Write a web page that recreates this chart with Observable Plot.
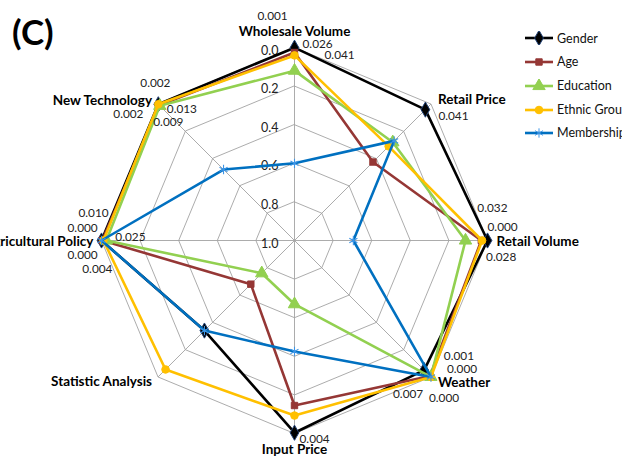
<!DOCTYPE html>
<html>
<head>
<meta charset="utf-8">
<script src="https://cdn.jsdelivr.net/npm/d3@7"></script>
<script src="https://cdn.jsdelivr.net/npm/@observablehq/plot@0.6"></script>
<style>
  html, body { margin: 0; padding: 0; background: #fff; }
  body { width: 622px; height: 456px; overflow: hidden; }
  #wrap { position: relative; width: 622px; height: 456px; overflow: hidden; font-family: Lato, "Open Sans", sans-serif; }
  #wrap svg.chart { position: absolute; left: 0; top: 0; }
  #panel { position: absolute; left: 12px; top: 14px; font-size: 35px; font-weight: 700; color: #000; line-height: 1; }
  .key { position: absolute; left: 524px; height: 14px; display: flex; align-items: center; white-space: nowrap; font-size: 12.5px; color: #111; }
  .key svg { margin-right: 3px; }
</style>
</head>
<body>
<div id="wrap"><div id="panel">(C)</div></div>
<script>
// Spokes of the radar, clockwise from the top
const axes = ["Wholesale Volume", "Retail Price", "Retail Volume", "Weather",
              "Input Price", "Statistic Analysis", "Agricultural Policy", "New Technology"];
const series = ["Gender", "Age", "Education", "Ethnic Group", "Membership"];

// p-values per spoke (0 sits on the rim, 1 at the centre)
const gender     = [0.001, 0.041, 0.000, 0.050, 0.004, 0.340, 0.000, 0.002];
const age        = [0.026, 0.425, 0.032, 0.007, 0.145, 0.680, 0.004, 0.009];
const education  = [0.120, 0.280, 0.114, 0.001, 0.670, 0.760, 0.025, 0.013];
const ethnic     = [0.041, 0.310, 0.028, 0.000, 0.093, 0.055, 0.010, 0.002];
const membership = [0.600, 0.270, 0.695, 0.000, 0.425, 0.340, 0.000, 0.480];

const ticks = [0.0, 0.2, 0.4, 0.6, 0.8, 1.0];

// Styling
const colors  = ["#000000", "#953735", "#92D050", "#FFC000", "#0070C0"];
const symbols = ["diamond", "square", "triangle", "circle", "asterisk"];
const symSize = [4.6, 3.6, 4.6, 3.8, 4.4];

// Nudges (px) for the significance labels, keyed series|spoke
const labelNudge = {
  "Gender|Wholesale Volume": [-37, -31],
  "Age|Wholesale Volume": [8, -8],
  "Ethnic Group|Wholesale Volume": [30, 0],
  "Gender|Retail Price": [13, 7],
  "Gender|Retail Volume": [0, -13],
  "Age|Retail Volume": [-4, -32],
  "Ethnic Group|Retail Volume": [4, 17],
  "Education|Weather": [13, -21],
  "Ethnic Group|Weather": [16, -8],
  "Age|Weather": [-37, 18],
  "Membership|Weather": [-2, 21],
  "Gender|Input Price": [5, 6],
  "Ethnic Group|Agricultural Policy": [-25, -27],
  "Gender|Agricultural Policy": [-34, -12],
  "Education|Agricultural Policy": [9, -3],
  "Membership|Agricultural Policy": [-34, 15],
  "Age|Agricultural Policy": [-20, 29],
  "Gender|New Technology": [-18, -21],
  "Education|New Technology": [7, 3],
  "Ethnic Group|New Technology": [-45, 10],
  "Age|New Technology": [-6, 17]
};
// Nudges (px) for the spoke names
const axisNudge = [[0, -16], [7, -4], [9, 1], [7, 6], [0, 16], [-6, 5], [-8, 1], [-6, -3]];

const valuesBySeries = [gender, age, education, ethnic, membership];
const angle = i => (i * 2 * Math.PI) / axes.length;
const radius = d3.scaleLinear([0, 1], [1, 0]); // reversed radial axis
const px = (i, v) => radius(v) * Math.sin(angle(i));
const py = (i, v) => radius(v) * Math.cos(angle(i));

const rows = series.flatMap((s, k) =>
  axes.map((a, i) => ({series: s, k, axis: a, i, value: valuesBySeries[k][i],
                       x: px(i, valuesBySeries[k][i]), y: py(i, valuesBySeries[k][i])})));

const rings = ticks.filter(t => t < 1).flatMap(t =>
  axes.map((a, i) => ({ring: t, x: px(i, t), y: py(i, t)})));
const spokes = axes.map((a, i) => ({axis: a, i, x: px(i, 0), y: py(i, 0)}));

const marks = [
  Plot.line(rings, {x: "x", y: "y", z: "ring", curve: "linear-closed", stroke: "#a3a3a3", strokeWidth: 0.9}),
  Plot.link(spokes, {x1: 0, y1: 0, x2: "x", y2: "y", stroke: "#a3a3a3", strokeWidth: 0.9}),
  Plot.text(ticks, {x: 0, y: t => radius(t), text: d3.format(".1f"), textAnchor: "end",
                    dx: -16, dy: 3, fontSize: 12.5, fill: "#222"})
];

series.forEach((s, k) => {
  const pts = rows.filter(d => d.k === k);
  marks.push(Plot.line(pts, {x: "x", y: "y", curve: "linear-closed", stroke: colors[k], strokeWidth: 2.6}));
  if (symbols[k] === "asterisk") {
    marks.push(Plot.dot(pts, {x: "x", y: "y", symbol: "asterisk", r: symSize[k], stroke: "#3d95e6", strokeWidth: 1.1}));
  } else {
    marks.push(Plot.dot(pts, {x: "x", y: "y", symbol: symbols[k], r: symSize[k], fill: colors[k],
                              stroke: k === 0 ? "#1f3f73" : colors[k], strokeWidth: 1}));
  }
});

// Labels for significant values (p < 0.05)
rows.filter(d => d.value < 0.05).forEach(d => {
  const [dx, dy] = labelNudge[`${d.series}|${d.axis}`] || [6, 0];
  marks.push(Plot.text([d], {x: "x", y: "y", text: v => d3.format(".3f")(v.value),
                              textAnchor: "start", dx, dy, fontSize: 11.8, fill: "#222"}));
});

// Spoke names
spokes.forEach((d, i) => {
  const s = Math.sin(angle(i));
  const anchor = Math.abs(s) < 0.1 ? "middle" : s > 0 ? "start" : "end";
  marks.push(Plot.text([d], {x: "x", y: "y", text: "axis", textAnchor: anchor,
                              dx: axisNudge[i][0], dy: axisNudge[i][1],
                              fontSize: 13.5, fontWeight: 700, fill: "#000"}));
});

const chart = Plot.plot({
  width: 622,
  height: 456,
  x: {domain: [-1, 1], range: [101, 487], axis: null},
  y: {domain: [-1, 1], range: [433, 47], axis: null},
  style: {fontFamily: "Lato, 'Open Sans', sans-serif", background: "transparent", overflow: "visible"},
  marks
});
chart.classList.add("chart");
const wrap = document.getElementById("wrap");
wrap.insertBefore(chart, wrap.firstChild);

// Legend
const keyTops = [38, 61.5, 85.5, 109.5, 132.5];
series.forEach((s, k) => {
  const item = document.createElement("div");
  item.className = "key";
  item.style.top = (keyTops[k] - 7) + "px";
  const r = symSize[k];
  const path = d3.symbol(d3[{diamond: "symbolDiamond", square: "symbolSquare", triangle: "symbolTriangle",
                             circle: "symbolCircle", asterisk: "symbolAsterisk"}[symbols[k]]], r * r * Math.PI)();
  const markStroke = symbols[k] === "asterisk" ? "#3d95e6" : (k === 0 ? "#1f3f73" : colors[k]);
  const markFill = symbols[k] === "asterisk" ? "none" : colors[k];
  item.innerHTML =
    `<svg width="30" height="14" viewBox="0 0 30 14">` +
    `<line x1="1" y1="7" x2="29" y2="7" stroke="${colors[k]}" stroke-width="2.6"/>` +
    `<path transform="translate(15,7)" d="${path}" fill="${markFill}" stroke="${markStroke}" stroke-width="1"/>` +
    `</svg><span>${s}</span>`;
  wrap.appendChild(item);
});
</script>
</body>
</html>
